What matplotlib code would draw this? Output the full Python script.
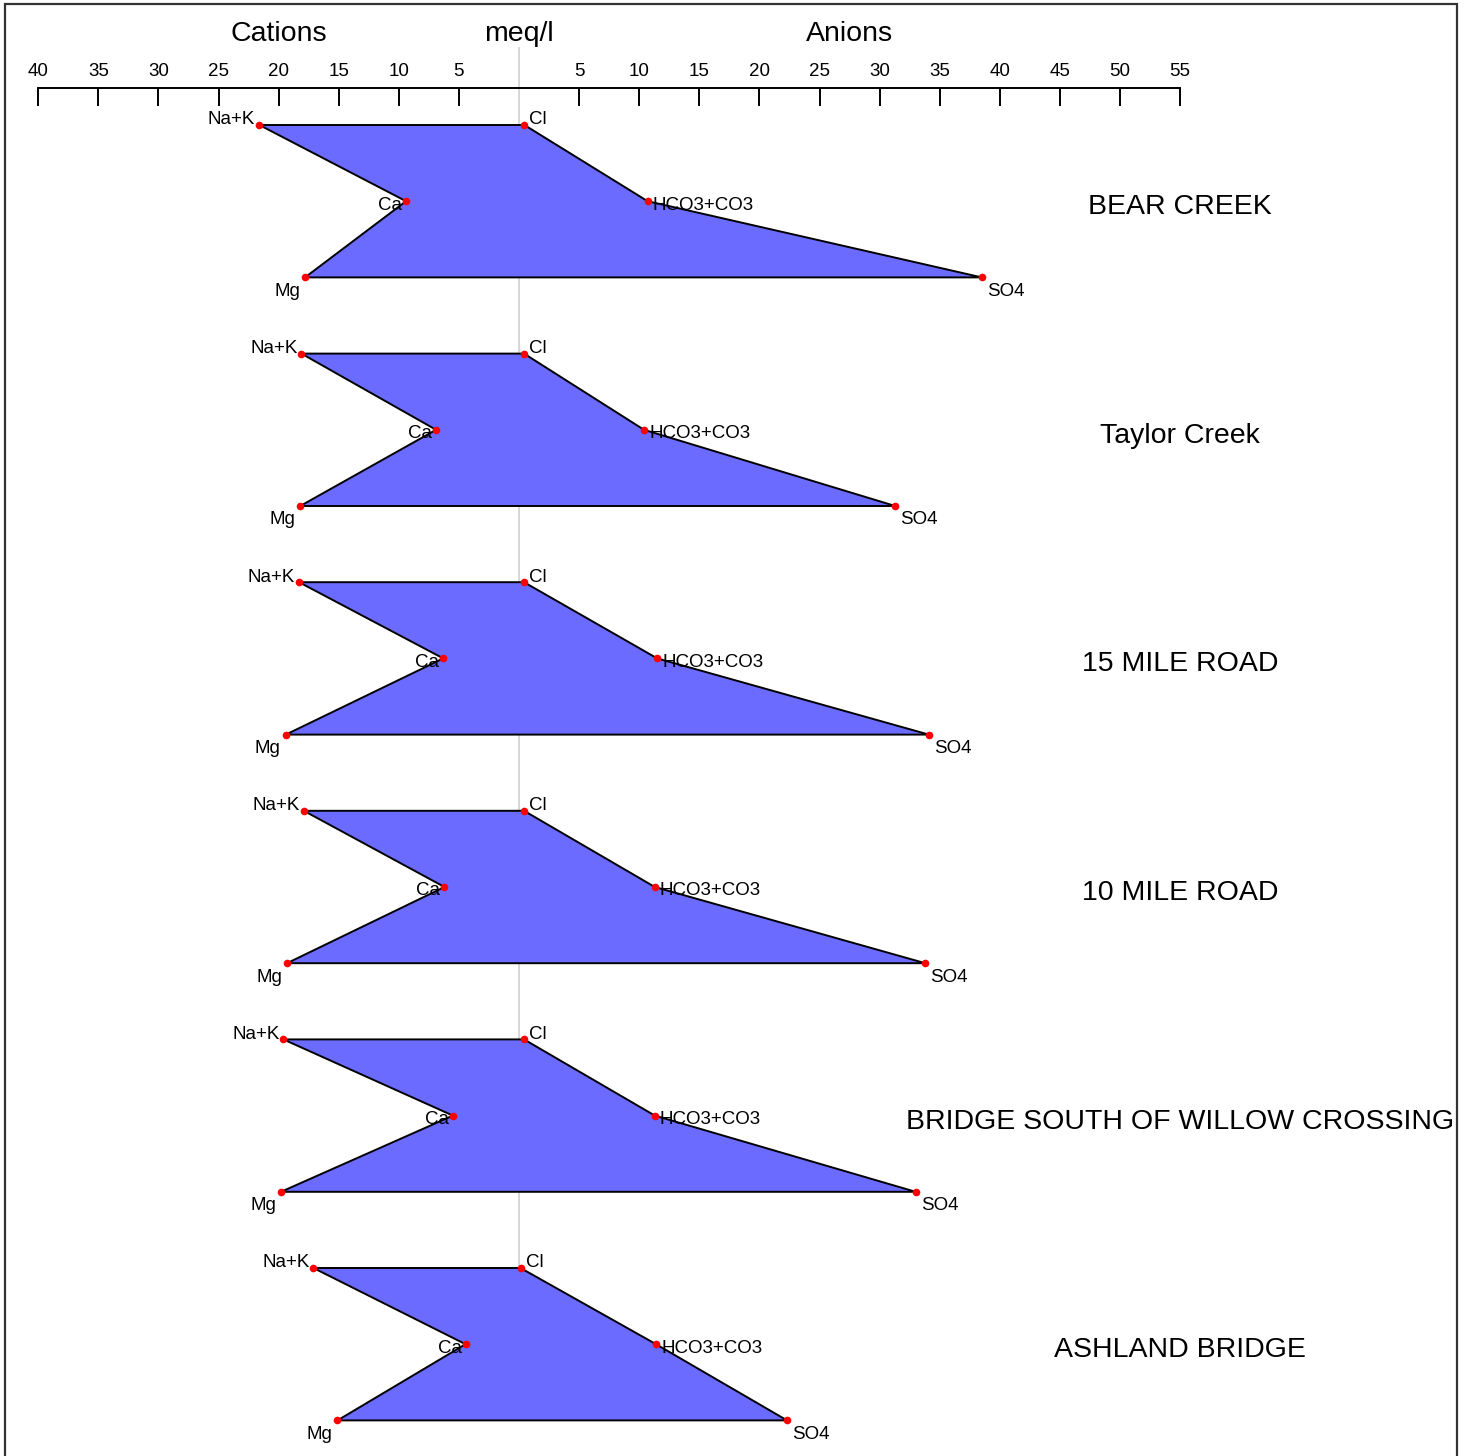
import matplotlib
matplotlib.use("Agg")
import matplotlib.pyplot as plt
from matplotlib.patches import Polygon, Rectangle

plt.rcParams['font.family'] = ['Liberation Sans', 'DejaVu Sans']

# ---- data (meq/l) ----
samples = ["BEAR CREEK", "Taylor Creek", "15 MILE ROAD", "10 MILE ROAD",
           "BRIDGE SOUTH OF WILLOW CROSSING", "ASHLAND BRIDGE"]
na_k = [21.6, 18.1, 18.3, 17.9, 19.6, 17.1]
ca = [9.4, 6.9, 6.3, 6.2, 5.5, 4.45]
mg = [17.8, 18.2, 19.4, 19.3, 19.8, 15.1]
cl = [0.45, 0.42, 0.42, 0.42, 0.42, 0.13]
hco3_co3 = [10.7, 10.4, 11.5, 11.3, 11.3, 11.4]
so4 = [38.5, 31.3, 34.1, 33.8, 33.0, 22.3]

cation_names = ["Na+K", "Ca", "Mg"]
anion_names = ["Cl", "HCO3+CO3", "SO4"]
tick_vals = [-40, -35, -30, -25, -20, -15, -10, -5, 5, 10, 15, 20, 25, 30, 35, 40, 45, 50, 55]

W, H = 1466, 1456
fig = plt.figure(figsize=(W / 100, H / 100), dpi=100)
ax = fig.add_axes([0, 0, 1, 1])

PX_X = 12.02   # pixels per meq/l
X0 = 519       # pixel of zero
PX_Y = 76.2    # pixels per row
Y0 = 125       # pixel of first row
ax.set_xlim(-X0 / PX_X, (W - X0) / PX_X)
ax.set_ylim((H - Y0) / PX_Y, -Y0 / PX_Y)

# scale axis along the top
axis_y = (88 - Y0) / PX_Y
for s in ['left', 'right', 'bottom']:
    ax.spines[s].set_visible(False)
ax.spines['top'].set_position(('data', axis_y))
ax.spines['top'].set_bounds(-40, 55)
ax.spines['top'].set_linewidth(1.4)
ax.xaxis.set_ticks_position('top')
ax.set_xticks(tick_vals)
ax.set_xticklabels([str(abs(v)) for v in tick_vals])
ax.tick_params(axis='x', direction='in', length=13, width=1.4, labelsize=13.5, pad=5.5)
ax.set_yticks([])
ax.patch.set_visible(False)

title_y = (34 - Y0) / PX_Y
ax.text(-20, title_y, "Cations", ha='center', va='center', fontsize=20.5)
ax.text(27.5, title_y, "Anions", ha='center', va='center', fontsize=20.5)
ax.text(0, title_y, "meq/l", ha='center', va='center', fontsize=20.5)

n = len(samples)
# grey zero line
ax.plot([0, 0], [(48 - Y0) / PX_Y, 3 * (n - 1)], color='#d3d3d3', lw=1.3, zorder=1)

for i in range(n):
    yb = 3 * i
    cat = [na_k[i], ca[i], mg[i]]
    an = [cl[i], hco3_co3[i], so4[i]]
    verts = [(-cat[0], yb), (-cat[1], yb + 1), (-cat[2], yb + 2),
             (an[2], yb + 2), (an[1], yb + 1), (an[0], yb)]
    poly = Polygon(verts, closed=True, facecolor='#6b6bff', edgecolor='black',
                   lw=1.4, zorder=2)
    ax.add_patch(poly)
    xs = [-c for c in cat] + an
    ys = [yb, yb + 1, yb + 2, yb, yb + 1, yb + 2]
    ax.plot(xs, ys, 'o', color='red', ms=5.5, zorder=3, mec='none')
    # labels
    offs_c = [(-4, 5, 'right'), (-4, -4, 'right'), (-5, -14, 'right')]
    offs_a = [(5, 5, 'left'), (5, -4, 'left'), (5, -14, 'left')]
    for k in range(3):
        dx, dy, ha = offs_c[k]
        ax.annotate(cation_names[k], (-cat[k], yb + k), xytext=(dx, dy),
                    textcoords='offset pixels', ha=ha, va='center', fontsize=13.5, zorder=4)
        dx, dy, ha = offs_a[k]
        ax.annotate(anion_names[k], (an[k], yb + k), xytext=(dx, dy),
                    textcoords='offset pixels', ha=ha, va='center', fontsize=13.5, zorder=4)
    ax.annotate(samples[i], (55, yb + 1), xytext=(0, -6), textcoords='offset pixels',
                ha='center', va='center', fontsize=20.5)

# outer frame
fig.patches.append(Rectangle((5 / W, -0.01), (1457 - 5) / W, 1 - 4 / H + 0.01,
                             transform=fig.transFigure, fill=False,
                             edgecolor='#333333', lw=1.6))

fig.savefig("out.png", dpi=100)
